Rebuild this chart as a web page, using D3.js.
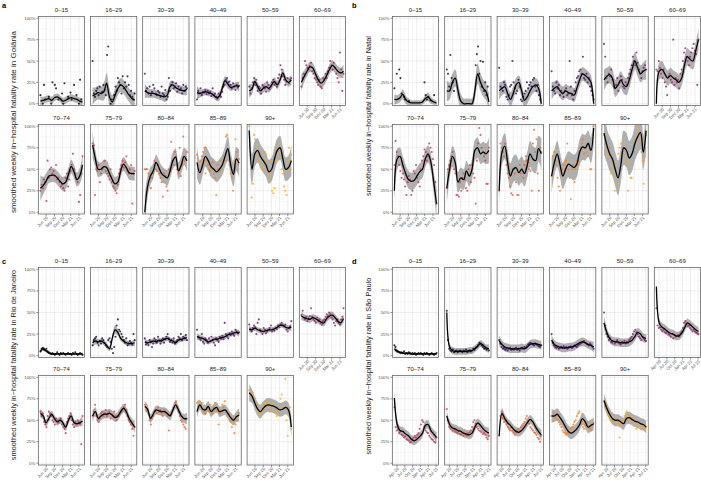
<!DOCTYPE html>
<html><head><meta charset="utf-8">
<script src="https://cdn.jsdelivr.net/npm/d3@7"></script>
<style>body{margin:0;background:#fff} svg{display:block;font-family:"Liberation Sans",Arial,Helvetica,sans-serif}</style>
</head><body><svg id="c" width="701" height="483"></svg>
<script>
const ageGroups = ["0–15","16–29","30–39","40–49","50–59","60–69","70–74","75–79","80–84","85–89","90+"];
const cities = ["Goiânia","Natal","Rio de Janeiro","São Paulo"];
const domainABC = ["2020-03-29","2021-07-10"];
const domainD = ["2020-03-01","2021-07-05"];
const ticksABC = ["2020-06-01","2020-09-01","2020-12-01","2021-03-01","2021-06-01"];
const tickLabABC = ["Jun 20","Sep 20","Dec 20","Mar 21","Jun 21"];
const ticksD = ["2020-04-01","2020-07-01","2020-10-01","2021-01-01","2021-04-01","2021-07-01"];
const tickLabD = ["Apr 20","Jul 20","Oct 20","Jan 21","Apr 21","Jul 21"];
const yTicks = [0,25,50,75,100];

// smoothed line (percent), 16 knots evenly spaced over the period
const lineGoiania = [
 [3,4,5,6,4,7,8,6,3,4,6,7,6,5,3,2],
 [9,11,13,12,14,24,8,2,10,18,22,20,15,10,6,4],
 [15,13,12,12,11,10,9,8,10,20,22,19,17,16,15,17],
 [13,12,13,14,13,12,10,7,9,18,27,23,19,20,21,20],
 [15,17,26,20,15,18,20,18,22,26,22,28,36,28,25,28],
 [25,32,38,43,42,35,28,24,27,33,40,45,42,38,36,38],
 [28,31,36,42,43,43,40,36,33,35,44,53,47,38,42,55],
 [78,62,50,50,53,52,45,38,33,35,48,56,52,46,45,45],
 [0,30,42,48,58,52,45,42,40,48,60,64,48,55,65,60],
 [58,46,55,65,60,53,50,47,50,55,65,74,55,44,62,57],
 [95,50,68,72,65,60,55,47,50,62,72,75,62,50,52,60]];
const bandGoiania = [
 [5,4,4,4,4,4,4,4,4,4,4,4,4,4,4,5],
 [10,8,8,8,10,12,10,8,8,8,8,8,8,8,8,10],
 [8,6,5,5,5,5,5,6,6,6,5,5,5,5,5,7],
 [8,5,4,4,4,4,4,4,5,5,5,5,4,4,4,6],
 [8,6,5,5,5,5,5,5,5,5,5,5,5,5,5,6],
 [10,7,6,6,6,6,6,6,6,6,6,6,6,6,6,8],
 [15,10,9,8,8,8,8,8,8,8,8,8,8,8,9,12],
 [15,10,9,8,8,8,8,8,8,8,8,8,8,8,8,8],
 [20,12,10,9,9,9,9,9,9,9,10,10,10,10,10,12],
 [18,14,12,12,12,12,12,12,12,12,12,14,14,14,14,16],
 [25,18,15,14,14,14,14,14,14,14,14,14,14,14,14,18]];
const ptsGoiania = [
 [10,null,0,22,5,null,null,8,null,0,25,null,22,18,null,5,null,null,12,0,24,null,null,8,null,13,5,null,22,null,10,null,0,28,5,null],
 [50,12,8,15,18,10,20,12,14,22,16,10,57,67,null,0,5,null,10,20,15,30,25,22,12,32,18,25,20,32,22,10,15,8,5,12],
 [35,15,18,12,20,10,14,22,18,12,10,15,13,8,20,12,10,16,5,8,30,15,22,25,18,20,24,14,20,16,18,12,22,15,20,18],
 [5,15,12,18,10,14,13,16,11,15,12,14,9,18,10,12,8,6,12,10,8,14,20,22,28,30,25,26,22,18,24,20,16,22,19,21],
 [20,12,18,25,30,22,28,15,20,18,12,22,20,18,14,25,22,17,20,25,28,22,24,20,30,34,45,40,32,28,22,26,30,24,28,30],
 [20,30,35,50,45,42,40,44,48,38,35,30,28,25,22,28,20,18,30,28,35,30,38,42,50,45,40,48,42,35,30,25,60,40,15,35],
 [25,32,28,38,35,13,60,40,50,52,45,48,42,55,38,40,35,30,32,28,25,40,45,30,38,48,55,68,50,45,38,35,12,20,45,65],
 [80,78,20,50,48,55,35,45,50,52,60,48,45,42,38,50,35,30,28,25,22,32,45,50,55,60,52,58,65,48,45,50,55,10,45,48],
 [50,50,50,45,42,28,40,45,60,50,48,55,45,40,35,18,45,42,30,25,50,48,82,60,55,70,65,50,45,75,42,55,88,60,62,70],
 [67,55,50,60,65,70,75,45,60,55,50,48,52,58,45,40,20,55,50,48,60,55,65,60,88,90,70,55,45,40,25,60,85,70,55,62],
 [100,67,17,33,90,85,75,65,60,67,55,50,60,70,67,50,45,40,60,25,22,28,60,75,70,80,65,50,45,30,25,20,60,75,50,67]];

const lineNatal = [
 [5,5,7,11,5,2,1,1,1,1,2,6,8,4,2,1],
 [15,15,25,30,15,3,0,0,0,0,15,35,25,18,14,2],
 [15,18,20,12,5,12,22,25,15,4,8,15,20,22,18,0],
 [15,18,20,15,12,15,13,12,10,18,28,35,33,30,25,0],
 [28,32,34,30,18,22,28,22,20,28,40,50,42,35,38,40],
 [0,38,40,35,30,33,30,28,25,30,45,55,52,50,62,75],
 [25,62,65,55,45,38,36,37,42,47,50,62,68,58,35,10],
 [28,50,65,58,35,40,38,48,42,50,72,75,68,70,68,72],
 [25,70,77,58,42,50,52,46,50,45,55,68,62,60,74,68],
 [42,58,68,55,42,50,56,54,52,56,70,76,75,80,72,98],
 [92,78,68,62,50,40,55,75,72,63,68,80,88,93,70,95]];
const bandNatal = [
 [6,5,5,6,5,4,3,3,3,3,3,4,5,4,3,3],
 [12,10,10,10,10,8,6,6,6,6,10,12,10,10,10,10],
 [10,8,8,8,8,8,8,8,8,8,8,8,8,8,8,10],
 [10,8,8,8,8,8,8,8,8,8,8,8,8,8,8,10],
 [12,10,10,10,10,10,10,10,10,10,10,10,10,10,10,12],
 [15,10,10,9,9,9,9,9,9,9,10,10,10,10,10,12],
 [18,12,10,10,10,10,10,10,10,10,10,10,10,10,12,18],
 [18,12,12,12,12,12,12,12,12,12,12,12,12,12,12,15],
 [20,15,15,15,15,15,15,15,15,15,15,15,15,15,15,18],
 [20,15,15,15,15,15,15,15,15,15,15,15,15,15,15,20],
 [25,20,20,20,20,20,20,20,20,20,20,20,20,20,20,25]];
const ptsNatal = [
 [18,null,35,null,40,30,12,null,8,5,null,null,3,null,null,null,null,null,null,null,null,null,null,null,null,25,10,5,8,null,4,null,null,10,null,null],
 [40,35,20,57,30,25,15,null,null,null,null,null,null,null,null,null,null,null,null,null,null,null,null,null,45,58,67,35,50,20,49,15,25,10,20,null],
 [42,20,18,15,25,22,8,5,10,20,22,50,25,18,12,15,28,20,5,3,8,12,15,25,18,22,25,20,28,30,20,15,22,10,5,null],
 [38,20,15,12,25,18,22,10,15,12,8,15,18,10,12,50,20,10,5,15,25,30,32,38,40,35,55,30,28,35,25,30,20,15,10,5],
 [70,55,30,25,35,32,40,28,20,18,22,30,15,25,32,28,20,18,25,22,30,35,40,45,55,50,45,60,48,40,35,30,38,42,45,40],
 [40,38,50,42,35,30,40,25,20,10,32,35,28,25,75,22,30,25,28,18,35,40,50,60,65,55,50,45,55,60,65,70,62,58,22,75],
 [55,83,70,65,55,48,40,45,38,30,20,35,42,38,20,25,48,45,55,40,35,30,50,60,65,73,70,60,65,80,75,70,62,55,35,10],
 [28,50,55,60,65,70,50,45,20,20,18,35,25,40,45,38,28,25,50,55,35,55,45,40,10,60,80,98,90,75,70,65,60,33,33,75],
 [25,80,75,70,65,80,55,45,40,30,22,20,50,45,35,20,20,55,45,50,40,55,65,60,58,50,48,25,80,96,70,85,45,25,75,70],
 [42,65,70,60,55,40,30,25,45,50,55,58,60,80,50,40,15,50,55,35,50,60,55,70,75,80,85,68,75,70,65,80,50,50,90,100],
 [90,88,70,75,65,50,45,60,42,25,35,55,68,75,80,70,65,75,65,60,25,55,40,40,70,85,100,90,80,95,85,70,60,33,65,90]];

const lineRio = [
 [5,8,6,3,2,2,2,2,2,2,2,2,2,2,2,2],
 [15,17,16,17,15,12,8,20,30,27,20,17,15,14,14,15],
 [16,15,16,17,16,18,17,19,20,18,17,15,18,19,20,21],
 [22,21,20,18,16,17,19,19,20,21,22,24,25,26,27,26],
 [31,30,32,30,29,28,29,30,30,31,33,35,35,33,32,33],
 [46,44,43,42,44,43,41,39,38,43,46,47,44,40,38,43],
 [58,55,47,52,57,52,48,50,47,42,50,55,47,46,47,49],
 [55,60,52,55,57,57,58,56,53,55,60,64,60,52,47,42],
 [66,63,52,57,62,61,60,60,58,55,62,68,62,55,52,52],
 [60,68,63,62,66,60,63,65,60,61,62,58,53,50,54,56],
 [82,78,70,63,60,64,67,68,67,66,64,62,63,65,62,42]];
const bandRio = [
 [2,2,2,1,1,1,1,1,1,1,1,1,1,1,1,2],
 [4,4,3,3,3,3,3,4,5,4,3,3,3,3,3,4],
 [4,3,3,3,3,3,3,3,3,3,3,3,3,3,3,4],
 [4,3,3,3,3,3,3,3,3,3,3,3,3,3,3,4],
 [4,3,3,3,3,3,3,3,3,3,3,3,3,3,3,4],
 [5,4,4,4,4,4,4,4,4,4,4,4,4,4,4,5],
 [5,4,4,4,4,4,4,4,4,4,4,4,4,4,4,6],
 [6,5,5,5,5,5,5,5,5,5,5,5,5,5,5,7],
 [6,5,5,5,5,5,5,5,5,5,5,5,5,5,5,7],
 [7,6,6,6,6,6,6,6,6,6,6,6,6,6,6,8],
 [10,8,8,8,8,8,8,8,8,8,8,8,8,8,8,12]];
const ptsRio = [
 [5,8,9,7,6,8,5,4,3,2,3,2,1,2,4,2,1,3,2,3,2,1,2,3,2,2,1,3,2,4,2,1,2,3,2,1],
 [12,18,20,22,15,12,17,14,20,18,15,12,10,18,20,16,8,3,10,22,35,42,30,28,25,22,18,15,20,12,14,17,15,13,25,18],
 [20,13,15,12,18,16,10,14,20,18,15,22,17,14,18,20,15,19,22,25,20,16,18,15,20,14,16,18,22,20,25,18,22,20,24,18],
 [30,22,20,18,25,16,14,20,18,15,20,17,22,18,15,12,20,18,16,22,20,23,19,38,25,22,20,26,24,28,25,23,30,28,26,27],
 [36,30,28,32,35,33,25,38,42,30,28,25,32,30,26,28,30,32,35,28,30,29,32,31,35,33,36,38,35,34,36,30,28,32,34,40],
 [47,52,44,42,45,40,43,46,55,45,42,40,38,44,40,42,38,36,40,42,45,48,46,50,48,44,42,38,35,40,42,38,36,42,45,55],
 [60,55,58,48,45,42,55,60,58,55,50,48,45,52,50,47,50,52,45,42,40,35,48,52,55,58,50,45,42,48,45,50,48,46,22,55],
 [55,60,68,55,50,48,52,58,60,55,58,62,55,58,60,52,57,55,60,55,50,54,55,58,60,62,65,68,62,55,50,48,45,40,32,42],
 [68,65,62,58,50,45,52,55,60,62,58,65,60,62,58,55,62,60,58,55,38,56,58,62,65,70,72,65,60,55,50,48,45,42,40,52],
 [70,72,65,68,70,62,60,58,65,62,60,68,62,58,65,70,62,60,45,58,62,68,65,72,60,55,58,50,48,42,52,35,45,50,55,58],
 [85,80,78,82,70,75,68,62,58,55,60,65,62,68,70,72,65,60,68,70,65,62,58,55,60,62,75,80,70,65,98,50,32,60,65,40]];

const lineSaoPaulo = [
 [8,5,4,3,3,3,2,2,2,2,2,2,2,2,2,2],
 [50,10,6,5,5,5,5,5,6,6,8,11,14,12,9,8],
 [17,13,10,9,8,8,8,8,9,8,10,13,14,14,13,12],
 [18,13,11,10,9,9,10,10,11,13,15,16,15,13,12,10],
 [38,27,20,17,16,16,15,15,15,16,18,22,27,25,21,20],
 [80,38,33,31,28,26,25,23,23,26,32,38,36,33,30,28],
 [76,45,38,37,34,32,28,26,28,31,35,44,45,38,34,30],
 [55,45,41,40,38,37,35,34,33,35,42,47,44,40,37,35],
 [32,58,52,47,44,40,37,36,38,42,47,51,48,42,37,33],
 [55,55,57,53,48,42,37,35,37,40,45,52,48,42,44,46],
 [73,64,57,52,50,50,48,46,52,53,51,49,48,46,45,42]];
const bandSaoPaulo = [
 [3,2,1,1,1,1,1,1,1,1,1,1,1,1,1,1],
 [8,4,4,4,4,4,4,4,4,4,4,4,4,4,4,5],
 [6,5,5,5,5,5,5,5,5,5,5,5,5,5,5,5],
 [6,5,5,5,5,5,5,5,5,5,5,5,5,5,5,6],
 [8,5,5,5,5,5,5,5,5,5,5,5,5,5,5,5],
 [8,5,5,5,5,5,5,5,5,5,5,5,5,5,5,5],
 [8,6,5,5,5,5,5,5,5,5,5,5,5,5,5,6],
 [6,5,5,5,5,5,5,5,5,5,5,5,5,5,5,6],
 [8,6,5,5,5,5,5,5,5,5,5,5,5,5,5,6],
 [8,7,7,7,7,7,7,7,7,7,7,7,7,7,7,7],
 [8,7,7,7,7,7,7,7,7,7,7,7,7,7,7,7]];
const ptsSaoPaulo = [
 [12,10,6,5,4,3,4,3,5,2,3,2,4,3,2,3,2,3,1,2,3,2,3,2,1,3,2,3,2,1,2,3,2,1,2,3],
 [52,18,8,6,5,7,4,5,6,4,5,6,5,4,6,5,7,4,5,6,5,6,8,7,9,10,12,15,14,12,10,8,9,7,8,6],
 [18,14,10,8,9,7,8,6,8,9,7,8,7,8,9,7,8,6,8,9,8,10,9,11,13,14,15,14,13,12,14,13,12,11,10,12],
 [25,15,12,10,9,10,8,9,10,9,11,9,10,8,9,10,11,9,10,12,11,10,12,13,14,15,16,17,15,14,13,12,14,12,10,8],
 [50,35,25,22,18,20,16,15,17,14,16,18,15,14,13,16,15,17,14,16,15,18,20,22,25,28,30,27,25,22,20,18,22,20,18,17],
 [55,35,32,33,30,28,30,27,26,28,25,24,22,25,20,24,22,23,24,22,26,28,32,38,40,37,34,35,32,30,28,30,28,27,26,25],
 [65,42,38,40,35,37,33,32,30,31,28,27,26,24,25,28,30,32,30,33,35,40,45,50,48,42,38,36,35,32,30,28,27,25,24,30],
 [63,50,42,40,42,38,40,37,36,35,38,34,33,35,32,34,33,32,35,36,38,42,48,50,46,42,40,38,37,36,34,35,33,30,28,32],
 [32,55,60,52,48,50,45,42,40,38,42,37,35,33,36,38,40,37,42,44,46,48,52,55,50,46,42,40,38,36,35,33,30,28,25,32],
 [55,55,58,55,52,50,48,45,42,38,36,35,33,35,38,36,40,42,45,48,50,55,58,60,50,45,42,40,44,46,48,42,40,38,45,47],
 [72,68,62,58,55,52,50,48,52,50,49,47,45,30,45,48,50,55,58,60,55,52,50,48,52,50,45,40,42,48,46,40,44,42,40,42]];

// ---------- drawing ----------
const svg = d3.select("#c");
const defs = svg.append("defs");
const parse = d3.timeParse("%Y-%m-%d");
const FW = 46.3, EXPX = 2.1, EXPY = 1.8;
const color = i => d3.interpolateInferno(i * 0.08);

const panels = [
 {key:"a", city:cities[0], line:lineGoiania, band:bandGoiania, pts:ptsGoiania, x0:38.3, dx:52.2,
  rows:[[16.5,105.5],[124.5,214]], dom:domainABC, ticks:ticksABC, labs:tickLabABC, lab:[2,8], tx:15.5, ty:122, tfs:8.0},
 {key:"b", city:cities[1], line:lineNatal, band:bandNatal, pts:ptsNatal, x0:392.3, dx:52.4,
  rows:[[16.5,105.5],[124.5,214]], dom:domainABC, ticks:ticksABC, labs:tickLabABC, lab:[352,8], tx:370.5, ty:116, tfs:7.4},
 {key:"c", city:cities[2], line:lineRio, band:bandRio, pts:ptsRio, x0:38.3, dx:52.2,
  rows:[[267.5,357.5],[375.5,465]], dom:domainABC, ticks:ticksABC, labs:tickLabABC, lab:[2,264], tx:15.5, ty:365, tfs:7.4},
 {key:"d", city:cities[3], line:lineSaoPaulo, band:bandSaoPaulo, pts:ptsSaoPaulo, x0:392.3, dx:52.4,
  rows:[[267.5,357.5],[375.5,465]], dom:domainD, ticks:ticksD, labs:tickLabD, lab:[352,264], tx:370.5, ty:366, tfs:7.4}
];

let clipId = 0;
panels.forEach(P => {
  const dom = P.dom.map(parse);
  const tks = P.ticks.map(parse);
  const half = (a,b) => new Date((a.getTime()+b.getTime())/2);
  const minors = [];
  for (let k=0;k<tks.length-1;k++) minors.push(half(tks[k],tks[k+1]));
  minors.push(new Date(2*tks[0].getTime()-minors[0].getTime()));
  minors.push(new Date(2*tks[tks.length-1].getTime()-minors[tks.length-2].getTime()));

  svg.append("text").attr("x",P.lab[0]).attr("y",P.lab[1]).attr("font-size",7.5)
     .attr("font-weight","bold").text(P.key);

  svg.append("text").attr("transform",`translate(${P.tx},${P.ty}) rotate(-90)`)
     .attr("text-anchor","middle").attr("font-size",P.tfs).attr("fill","#1a1a1a")
     .text(`smoothed weekly in−hospital fatality rate in ${P.city}`);

  ageGroups.forEach((ag, gi) => {
    const row = gi < 6 ? 0 : 1, col = gi < 6 ? gi : gi - 6;
    const left = P.x0 + col*P.dx, top = P.rows[row][0], bot = P.rows[row][1];
    const x = d3.scaleTime().domain(dom).range([left+EXPX, left+FW-EXPX]);
    const y = d3.scaleLinear().domain([0,100]).range([bot-EXPY, top+EXPY]);
    const g = svg.append("g");
    const cid = "clip"+(clipId++);
    defs.append("clipPath").attr("id",cid).append("rect")
        .attr("x",left).attr("y",top).attr("width",FW).attr("height",bot-top);

    g.append("rect").attr("x",left).attr("y",top).attr("width",FW).attr("height",bot-top).attr("fill","#fff");
    [12.5,37.5,62.5,87.5].forEach(v => g.append("line").attr("x1",left).attr("x2",left+FW)
        .attr("y1",y(v)).attr("y2",y(v)).attr("stroke","#f0f0f0").attr("stroke-width",0.4));
    minors.forEach(d => { const xv = x(d); if (xv>left && xv<left+FW)
        g.append("line").attr("x1",xv).attr("x2",xv).attr("y1",top).attr("y2",bot)
         .attr("stroke","#f0f0f0").attr("stroke-width",0.4); });
    yTicks.forEach(v => g.append("line").attr("x1",left).attr("x2",left+FW)
        .attr("y1",y(v)).attr("y2",y(v)).attr("stroke","#e3e3e3").attr("stroke-width",0.6));
    tks.forEach(d => g.append("line").attr("x1",x(d)).attr("x2",x(d)).attr("y1",top).attr("y2",bot)
        .attr("stroke","#e3e3e3").attr("stroke-width",0.6));

    const inner = g.append("g").attr("clip-path",`url(#${cid})`);
    const lv = P.line[gi], bv = P.band[gi], m = lv.length;
    const ldate = i => new Date(dom[0].getTime() + i*(dom[1]-dom[0])/(m-1));
    const seq = lv.map((v,i)=>({d:ldate(i), v, h:bv[i]}));
    inner.append("path").datum(seq)
      .attr("d", d3.area().curve(d3.curveCatmullRom).x(p=>x(p.d)).y0(p=>y(p.v-p.h)).y1(p=>y(p.v+p.h)))
      .attr("fill","#8f8f8f").attr("fill-opacity",0.7);
    const pv = P.pts[gi], n = pv.length;
    const pdate = i => new Date(dom[0].getTime() + i*(dom[1]-dom[0])/(n-1));
    const pdata = pv.map((v,i)=>({v, d:pdate(i)})).filter(p => p.v !== null);
    inner.selectAll("circle").data(pdata).join("circle")
      .attr("cx",p=>x(p.d)).attr("cy",p=>y(p.v)).attr("r",1.05)
      .attr("fill",color(gi)).attr("fill-opacity",0.8);
    inner.append("path").datum(seq)
      .attr("d", d3.line().curve(d3.curveCatmullRom).x(p=>x(p.d)).y(p=>y(p.v)))
      .attr("fill","none").attr("stroke","#000").attr("stroke-width",1.3);

    g.append("rect").attr("x",left).attr("y",top).attr("width",FW).attr("height",bot-top)
      .attr("fill","none").attr("stroke","#555").attr("stroke-width",0.7);

    svg.append("text").attr("x",left+FW/2).attr("y",top-4.2).attr("text-anchor","middle")
       .attr("font-size",6).attr("fill","#1a1a1a").text(ag);

    if (col === 0) {
      yTicks.forEach(v => {
        svg.append("line").attr("x1",left-2).attr("x2",left).attr("y1",y(v)).attr("y2",y(v))
           .attr("stroke","#333").attr("stroke-width",0.5);
        svg.append("text").attr("x",left-3).attr("y",y(v)).attr("dy","0.35em")
           .attr("text-anchor","end").attr("font-size",4.3).attr("fill","#4d4d4d").text(v+"%");
      });
    }
    if (row === 1 || gi === 5) {
      tks.forEach((d,k) => {
        svg.append("line").attr("x1",x(d)).attr("x2",x(d)).attr("y1",bot).attr("y2",bot+2)
           .attr("stroke","#333").attr("stroke-width",0.5);
        svg.append("text").attr("transform",`translate(${x(d)+1.2},${bot+3.2}) rotate(-45)`)
           .attr("text-anchor","end").attr("dy","0.3em").attr("font-size",4.3).attr("fill","#4d4d4d")
           .text(P.labs[k]);
      });
    }
  });
});
</script></body></html>
